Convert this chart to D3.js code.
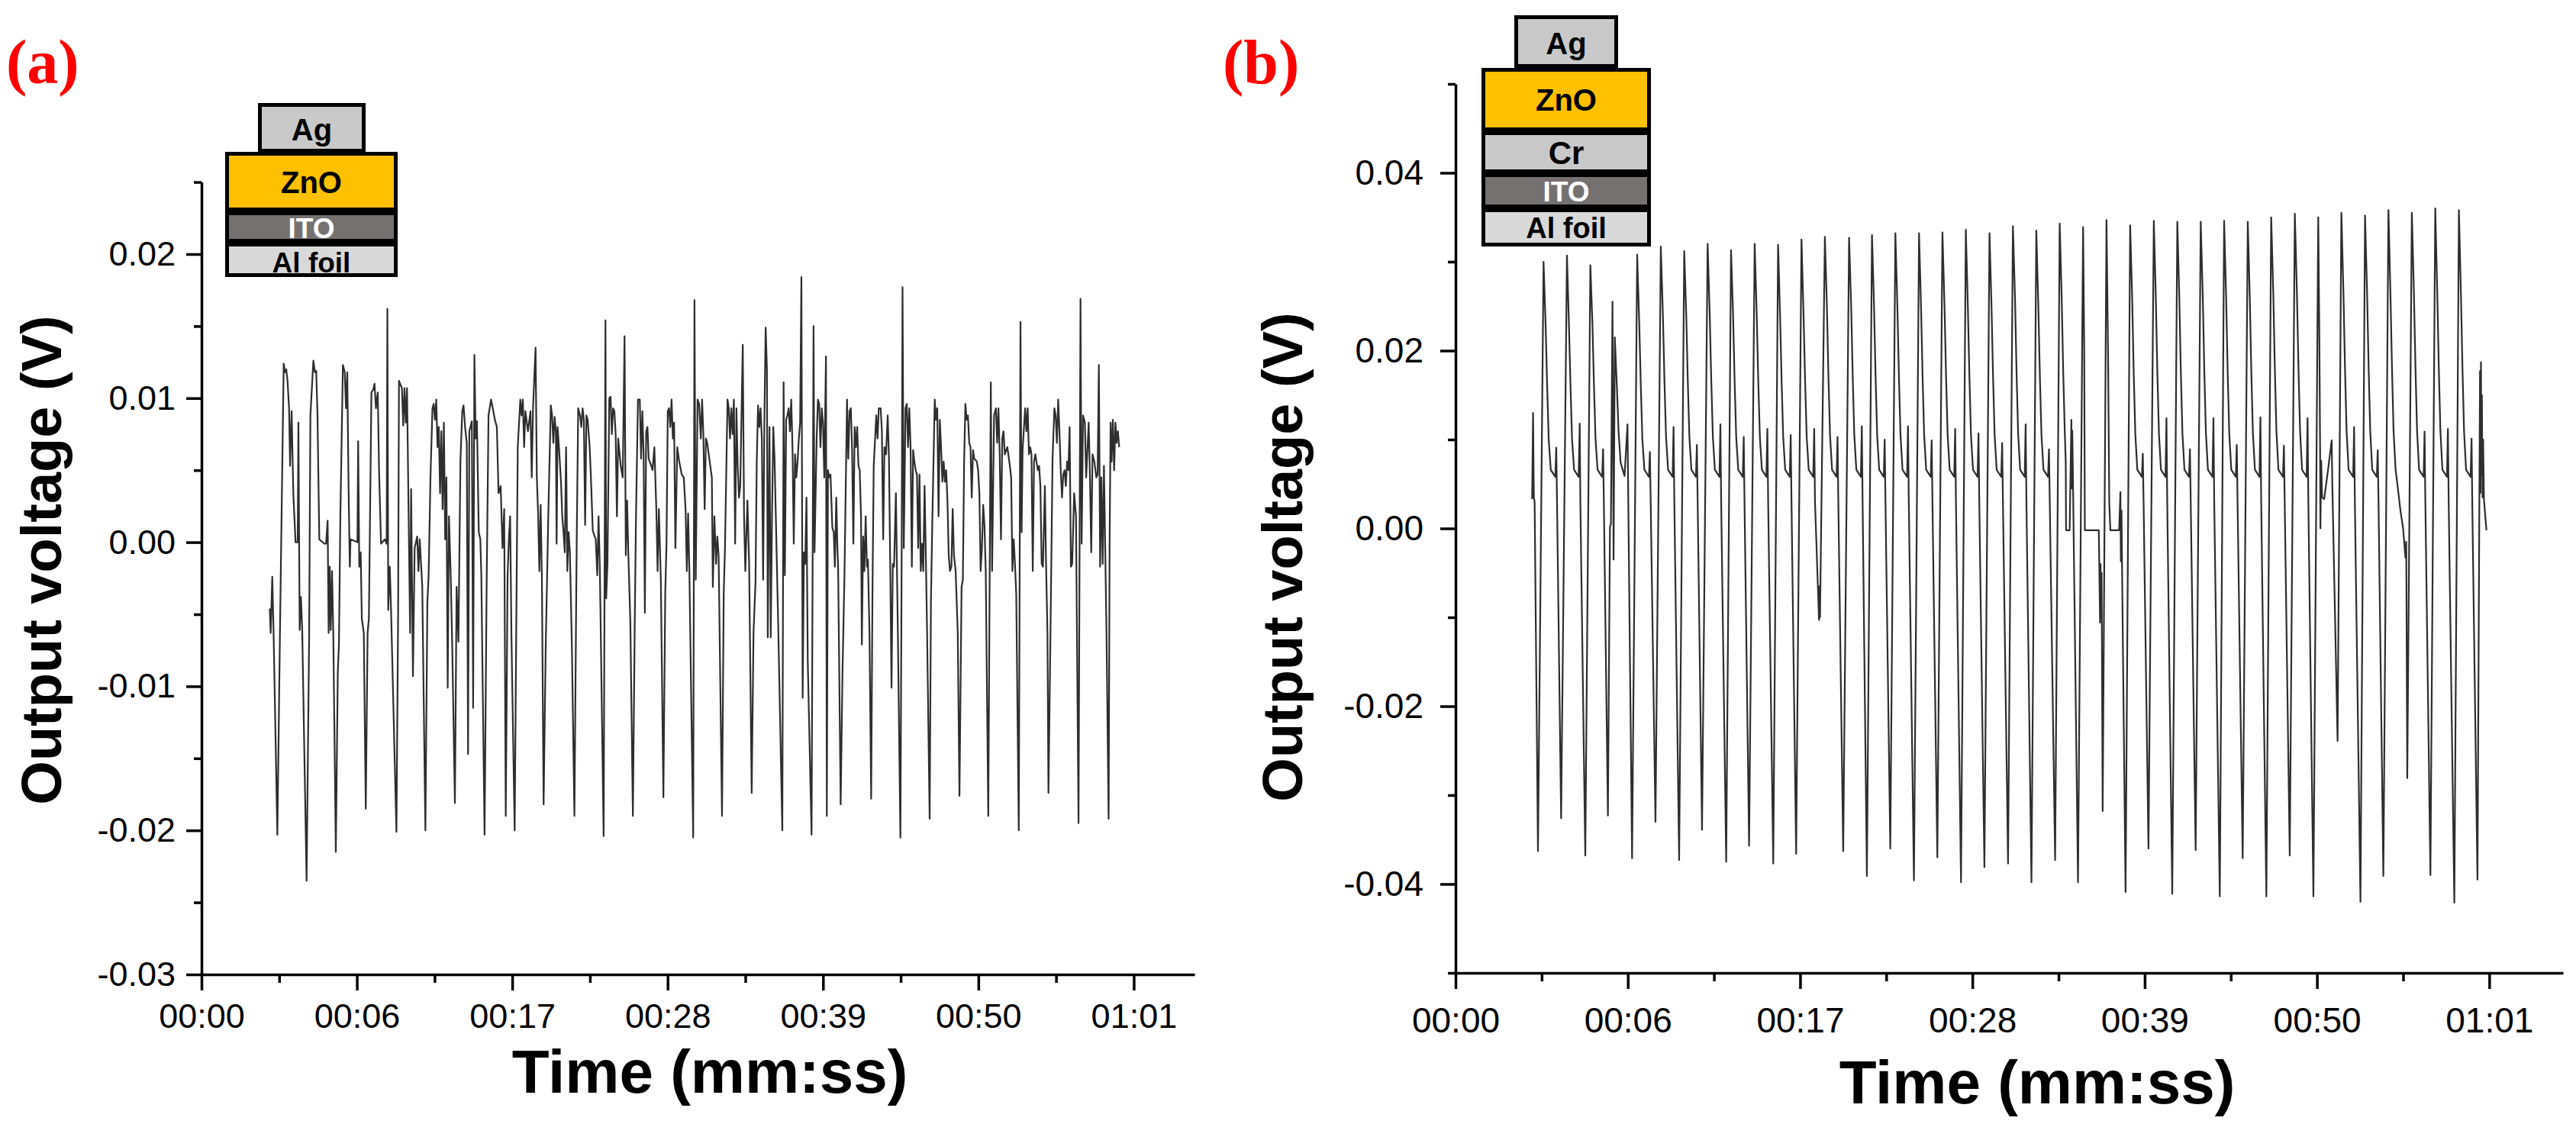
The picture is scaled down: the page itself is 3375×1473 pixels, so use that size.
<!DOCTYPE html>
<html><head><meta charset="utf-8">
<script src="https://cdn.jsdelivr.net/npm/d3@7"></script>
<style>
html,body{margin:0;padding:0;background:#fff;}
svg{display:block;}
</style></head>
<body>
<svg id="chart" width="3375" height="1473" xmlns="http://www.w3.org/2000/svg"></svg>
<script>
// ---------------- DATA ----------------
// x tick positions are seconds from the axis origin; labels as printed on the chart
const xTickSeconds = [0, 11, 22, 33, 44, 55, 66];
const xTickLabels = ["00:00", "00:06", "00:17", "00:28", "00:39", "00:50", "01:01"];
const xMinorSeconds = [5.5, 16.5, 27.5, 38.5, 49.5, 60.5];
const yTicksA = [-0.03, -0.02, -0.01, 0.00, 0.01, 0.02];
const yMinorA = [-0.025, -0.015, -0.005, 0.005, 0.015, 0.025];
const yTicksB = [-0.04, -0.02, 0.00, 0.02, 0.04];
const yMinorB = [-0.05, -0.03, -0.01, 0.01, 0.03, 0.05];

const layersA = ["Ag", "ZnO", "ITO", "Al foil"];
const layersB = ["Ag", "ZnO", "Cr", "ITO", "Al foil"];
const layerFill = {"Ag": "#c9c9c9", "ZnO": "#ffc000", "Cr": "#c9c9c9", "ITO": "#767171", "Al foil": "#d9d9d9"};
const layerText = {"Ag": "#000", "ZnO": "#000", "Cr": "#000", "ITO": "#fff", "Al foil": "#000"};

// (a) Ag/ZnO/ITO/Al foil : [time s, output voltage mV]
const seriesA = [
[4.83,-4.6],[4.90,-6.3],[5.01,-2.4],[5.11,-6.6],[5.37,-20.3],[5.55,-6.6],[5.82,12.4],[5.91,11.8],[6.00,12.0],[6.09,11.2],[6.20,9.3],[6.27,5.3],[6.38,9.1],[6.50,3.4],[6.66,0.0],[6.81,0.0],[6.86,8.3],[6.95,-6.1],[7.04,-3.8],[7.13,-6.1],
[7.44,-23.5],[7.62,-6.6],[7.71,8.8],[7.92,12.6],[8.03,11.8],[8.12,11.9],[8.21,8.9],[8.34,0.2],[8.70,-0.1],[8.82,-0.1],[8.93,1.5],[9.00,-6.3],[9.08,-1.7],[9.15,-6.1],[9.24,-2.0],[9.33,-6.3],
[9.51,-21.5],[9.65,-9.0],[9.73,-7.1],[9.83,1.8],[10.01,12.3],[10.14,11.8],[10.23,9.3],[10.32,11.8],[10.41,3.9],[10.50,-1.7],[10.55,0.2],[11.04,0.0],[11.09,7.0],[11.17,-1.7],[11.27,-0.7],[11.35,-5.3],[11.49,-6.3],
[11.63,-18.5],[11.76,-6.3],[11.85,-5.3],[12.03,10.4],[12.16,10.6],[12.25,11.0],[12.35,9.3],[12.48,10.4],[12.57,5.0],[12.71,-0.1],[12.98,0.2],[13.11,-0.1],[13.16,16.2],[13.22,-4.7],[13.33,-1.7],[13.42,-4.7],
[13.80,-20.1],[13.92,-5.0],[13.98,11.2],[14.19,10.7],[14.28,8.1],[14.37,10.7],[14.46,8.3],[14.55,10.7],[14.70,-0.9],[14.77,-6.3],[14.84,3.7],[14.97,-9.3],[15.09,-0.4],[15.27,0.4],[15.36,-2.0],[15.45,0.2],[15.63,-3.1],
[15.85,-20.0],[15.99,-4.2],[16.08,-2.3],[16.21,4.5],[16.35,9.3],[16.44,9.6],[16.53,8.5],[16.62,9.9],[16.71,6.6],[16.80,8.0],[16.89,3.4],[16.98,7.7],[17.07,2.3],[17.16,8.3],[17.25,0.2],[17.34,4.5],[17.43,-10.1],[17.52,1.8],[17.65,-2.6],[17.76,-7.7],
[17.94,-18.1],[18.06,-3.1],[18.19,-6.9],[18.33,5.6],[18.46,9.1],[18.55,9.5],[18.66,8.0],[18.78,6.9],[18.87,-14.7],[18.96,7.7],[19.14,8.4],[19.23,-11.5],[19.32,13.0],[19.41,7.2],[19.50,8.4],[19.63,0.7],[19.74,0.2],[19.81,-2.3],
[20.04,-20.3],[20.19,-2.6],[20.32,8.8],[20.50,9.9],[20.62,9.3],[20.77,8.5],[20.91,8.0],[21.03,3.4],[21.18,3.9],[21.31,-0.4],[21.43,2.3],[21.54,-19.0],[21.67,-2.3],[21.76,0.2],[21.85,1.8],[21.94,-6.3],
[22.17,-20.0],[22.30,-3.9],[22.39,6.6],[22.57,9.9],[22.66,8.8],[22.75,9.9],[22.84,6.6],[22.93,9.1],[23.11,7.7],[23.29,9.1],[23.38,4.5],[23.47,9.3],[23.65,13.5],[23.74,4.5],[23.83,2.0],[23.92,-2.0],[24.01,2.6],[24.10,-2.6],
[24.22,-18.2],[24.37,-7.1],[24.46,-2.8],[24.55,1.8],[24.73,9.5],[24.82,8.8],[24.91,6.9],[25.00,8.7],[25.09,7.7],[25.14,-0.1],[25.21,8.0],[25.32,6.4],[25.45,4.2],[25.54,1.8],[25.63,0.7],[25.72,-0.7],[25.81,6.6],[25.90,-2.0],[25.99,0.7],[26.08,-0.7],[26.22,-7.1],
[26.40,-19.0],[26.53,-3.6],[26.58,1.6],[26.67,9.3],[26.80,8.8],[26.89,8.0],[26.98,9.3],[27.07,8.5],[27.16,1.2],[27.25,8.8],[27.34,8.5],[27.48,6.6],[27.57,4.5],[27.70,0.8],[27.91,0.2],[28.02,-2.3],[28.11,1.8],[28.20,-1.7],
[28.47,-20.4],[28.60,15.4],[28.65,-3.9],[28.74,-1.5],[28.87,10.0],[28.96,10.1],[29.05,7.5],[29.14,9.3],[29.23,9.1],[29.32,7.5],[29.41,1.8],[29.50,7.2],[29.68,5.3],[29.82,4.5],[29.95,14.3],[30.04,-0.9],[30.13,2.9],[30.22,-0.9],[30.36,-5.5],
[30.54,-19.0],[30.67,-5.8],[30.76,1.8],[30.90,9.9],[31.03,9.9],[31.12,5.8],[31.21,9.1],[31.30,6.1],[31.39,-4.9],[31.48,7.7],[31.57,8.0],[31.66,5.8],[31.84,5.3],[31.93,5.0],[32.06,6.6],[32.20,2.3],[32.29,-2.0],[32.38,2.3],[32.52,-2.6],
[32.70,-17.7],[32.83,-3.6],[32.92,-0.1],[33.01,9.1],[33.10,9.3],[33.19,8.0],[33.28,9.9],[33.37,7.2],[33.46,8.3],[33.55,-0.4],[33.68,6.6],[33.82,5.6],[34.00,4.7],[34.14,4.5],[34.27,2.3],[34.36,-2.0],[34.45,2.0],[34.54,-2.0],
[34.81,-20.5],[34.90,16.8],[34.99,-2.6],[35.12,9.9],[35.23,9.6],[35.35,7.2],[35.44,9.9],[35.53,7.5],[35.62,2.3],[35.71,7.2],[35.80,6.9],[35.98,5.6],[36.13,4.5],[36.20,-3.1],[36.31,1.8],[36.43,-1.5],[36.52,0.4],[36.61,-0.9],
[36.85,-19.0],[36.97,-3.6],[37.06,-0.4],[37.24,9.9],[37.33,9.3],[37.42,7.2],[37.51,9.3],[37.60,7.5],[37.69,9.9],[37.78,-0.1],[37.87,9.3],[37.96,5.3],[38.05,3.1],[38.14,3.9],[38.32,13.7],[38.41,1.8],[38.50,-2.0],[38.65,2.9],[38.77,-1.5],
[38.95,-17.4],[39.08,-6.3],[39.22,-2.8],[39.31,5.6],[39.40,9.5],[39.49,8.0],[39.58,9.3],[39.67,7.2],[39.76,-2.6],[39.85,8.5],[39.94,14.9],[40.03,12.0],[40.09,-6.6],[40.21,8.0],[40.30,-6.6],[40.39,1.8],[40.48,8.0],[40.57,5.8],[40.66,1.8],[40.84,-6.3],
[41.12,-20.0],[41.21,11.1],[41.30,-2.3],[41.39,8.5],[41.48,8.8],[41.57,9.3],[41.66,7.7],[41.75,9.9],[41.84,6.6],[41.93,-0.1],[42.02,6.1],[42.11,4.5],[42.20,5.6],[42.29,7.2],[42.38,8.3],[42.47,18.4],[42.56,-10.8],[42.65,-0.7],[42.74,-1.5],[42.83,3.1],[42.92,-8.2],
[43.19,-20.3],[43.33,15.0],[43.40,-0.7],[43.55,7.2],[43.64,9.9],[43.73,9.6],[43.82,6.6],[43.91,9.3],[44.00,8.3],[44.09,4.5],[44.21,12.9],[44.27,-19.0],[44.35,5.0],[44.44,4.5],[44.53,4.7],[44.66,1.0],[44.76,0.7],[44.84,-1.7],[44.94,3.1],[45.02,-0.4],[45.07,-1.7],
[45.25,-18.2],[45.38,-9.0],[45.52,-2.3],[45.70,9.9],[45.79,5.8],[45.88,9.1],[45.97,9.3],[46.06,6.4],[46.15,-0.1],[46.24,8.0],[46.33,6.6],[46.42,8.0],[46.51,5.3],[46.60,5.0],[46.69,1.8],[46.75,-7.1],[46.84,0.4],[46.93,-2.0],[47.02,1.8],[47.11,-1.7],[47.18,-1.2],[47.29,-6.3],
[47.41,-17.8],[47.50,-3.6],[47.59,5.3],[47.77,8.8],[47.86,7.2],[47.95,9.3],[48.08,9.3],[48.17,7.7],[48.26,0.2],[48.35,6.6],[48.46,6.1],[48.58,8.8],[48.67,5.8],[48.76,-1.7],[48.85,-10.1],[48.94,-1.5],[49.03,-1.7],[49.16,3.4],[49.30,-6.3],
[49.48,-20.5],[49.57,-0.4],[49.63,17.7],[49.72,-0.4],[49.84,9.3],[49.93,9.6],[50.02,6.6],[50.11,9.3],[50.20,6.6],[50.29,-1.7],[50.38,6.4],[50.47,5.6],[50.56,5.0],[50.65,4.7],[50.74,-0.4],[50.83,4.7],[50.92,-2.0],[51.01,-0.1],[51.10,-2.0],[51.19,3.9],[51.28,-0.9],[51.37,-6.3],
[51.55,-19.2],[51.64,-4.2],[51.73,1.0],[51.91,9.9],[52.00,8.5],[52.09,9.3],[52.18,1.8],[52.27,8.5],[52.36,6.6],[52.45,4.2],[52.54,5.6],[52.63,4.2],[52.72,5.0],[52.81,2.9],[52.90,-0.9],[52.99,-2.0],[53.09,-1.7],[53.18,2.3],[53.27,-0.9],[53.39,-2.0],[53.54,-6.3],
[53.66,-17.6],[53.81,-3.1],[53.90,-2.6],[53.99,5.6],[54.08,9.6],[54.17,8.5],[54.26,8.8],[54.35,6.9],[54.44,6.6],[54.53,3.1],[54.62,6.4],[54.71,5.8],[54.89,5.6],[54.98,5.0],[55.07,3.4],[55.16,-2.0],[55.25,-0.4],[55.34,2.6],[55.43,1.2],[55.52,-2.0],
[55.70,-19.0],[55.88,11.1],[55.97,-2.0],[56.11,8.8],[56.24,9.3],[56.33,6.9],[56.42,9.3],[56.51,6.1],[56.60,0.2],[56.69,7.2],[56.78,7.7],[56.87,6.1],[57.05,6.6],[57.23,5.3],[57.32,4.5],[57.41,-2.0],[57.50,0.2],[57.59,-1.5],[57.68,-3.6],
[57.86,-20.0],[57.98,15.3],[58.06,0.7],[58.13,6.4],[58.31,9.3],[58.40,7.7],[58.49,9.3],[58.58,6.1],[58.67,6.6],[58.76,6.1],[58.85,-2.0],[58.94,5.6],[59.03,6.1],[59.21,5.0],[59.30,5.3],[59.39,3.9],[59.48,-1.5],[59.57,-1.7],[59.71,3.9],[59.78,-0.9],[59.89,-6.3],
[59.96,-17.4],[60.07,-9.0],[60.16,-1.7],[60.25,5.8],[60.38,9.3],[60.47,8.8],[60.56,6.9],[60.65,9.9],[60.74,7.7],[60.83,5.0],[60.92,3.1],[61.01,4.7],[61.10,5.0],[61.19,3.9],[61.28,5.6],[61.37,5.0],[61.46,8.0],[61.55,-1.7],[61.64,-1.5],[61.78,3.4],[61.91,1.8],
[62.09,-19.5],[62.23,16.9],[62.31,-0.1],[62.41,8.8],[62.54,8.3],[62.63,4.5],[62.81,8.3],[62.90,4.5],[62.99,-0.7],[63.08,6.1],[63.21,5.6],[63.35,4.5],[63.44,4.7],[63.53,12.3],[63.62,-1.7],[63.71,4.5],[63.80,-1.5],[63.89,5.3],[64.07,-6.3],
[64.22,-19.2],[64.29,-0.1],[64.36,8.3],[64.43,5.6],[64.52,8.5],[64.61,5.0],[64.70,8.3],[64.79,6.9],[64.88,7.7],[64.97,6.6]
];

// (b) Ag/ZnO/Cr/ITO/Al foil : [time s, output voltage mV]
const seriesB = [
[4.89,3.3],[4.95,13.0],[5.00,3.5],[5.05,3.0],[5.263,-36.3],
[5.62,30.0],[5.75,23],[5.85,16],[5.95,10],[6.08,6.6],[6.37,5.8],[6.43,9.1],[6.48,3.0],[6.741,-32.6],
[7.114,30.7],[7.24,23],[7.34,16],[7.44,10],[7.57,6.6],[7.86,5.8],[7.93,11.8],[7.97,3.0],[8.284,-36.8],
[8.608,29.6],[8.74,23],[8.84,16],[8.94,10],[9.07,6.6],[9.36,5.8],[9.42,8.9],[9.47,3.0],[9.729,-32.3],
[9.86,0.2],[9.92,0.5],[10.021,25.5],[10.09,-3.5],[10.17,21.5],[10.30,16],[10.41,10.9],[10.54,7.4],[10.79,5.9],[10.98,11.7],[11.03,3.0],[11.272,-37.1],
[11.597,30.8],[11.73,23],[11.83,16],[11.93,10],[12.06,6.6],[12.35,5.8],[12.41,8.6],[12.46,3.0],[12.766,-33.0],
[13.107,31.7],[13.24,24],[13.34,16.5],[13.44,10.3],[13.57,6.6],[13.86,5.8],[13.92,11.4],[13.97,3.0],[14.276,-37.3],
[14.601,31.2],[14.73,24],[14.83,16.5],[14.93,10.3],[15.06,6.6],[15.35,5.8],[15.41,9.4],[15.46,3.0],[15.738,-33.9],
[16.095,32.0],[16.23,24],[16.33,16.5],[16.43,10.3],[16.56,6.6],[16.85,5.8],[16.91,11.7],[16.96,3.0],[17.281,-37.5],
[17.589,31.3],[17.72,24],[17.82,16.5],[17.92,10.3],[18.05,6.6],[18.34,5.8],[18.40,10.3],[18.45,3.0],[18.743,-35.7],
[19.099,32.0],[19.23,24],[19.33,16.5],[19.43,10.3],[19.56,6.6],[19.85,5.8],[19.91,11.2],[19.96,3.0],[20.285,-37.7],
[20.594,31.9],[20.72,24],[20.82,16.5],[20.92,10.3],[21.05,6.6],[21.34,5.8],[21.40,10.5],[21.45,3.0],[21.747,-36.6],
[22.088,32.5],[22.22,24],[22.32,16.5],[22.42,10.3],[22.55,6.6],[22.84,5.8],[22.90,11.2],[22.95,3.0],[23.208,-10.3],[23.24,-6.5],[23.27,-10.0],
[23.582,32.8],[23.71,25],[23.81,17],[23.91,10.5],[24.04,6.6],[24.33,5.8],[24.39,10.3],[24.44,3.0],[24.751,-36.3],
[25.127,32.7],[25.26,25],[25.36,17],[25.46,10.5],[25.59,6.6],[25.88,5.8],[25.94,11.5],[25.99,3.0],[26.264,-39.1],
[26.589,33.0],[26.72,25],[26.82,17],[26.92,10.5],[27.05,6.6],[27.34,5.8],[27.40,10.0],[27.45,3.0],[27.758,-36.0],
[28.083,33.2],[28.21,25],[28.31,17],[28.41,10.5],[28.54,6.6],[28.83,5.8],[28.89,11.5],[28.94,3.0],[29.268,-39.6],
[29.593,33.2],[29.72,25],[29.82,17],[29.92,10.5],[30.05,6.6],[30.34,5.8],[30.40,9.9],[30.45,3.0],[30.762,-37.0],
[31.087,33.3],[31.22,25],[31.32,17],[31.42,10.5],[31.55,6.6],[31.84,5.8],[31.90,11.2],[31.95,3.0],[32.273,-39.8],
[32.581,33.6],[32.71,25],[32.81,17],[32.91,10.5],[33.04,6.6],[33.33,5.8],[33.39,10.7],[33.44,3.0],[33.767,-38.1],
[34.092,33.2],[34.22,25],[34.32,17],[34.42,10.5],[34.55,6.6],[34.84,5.8],[34.90,9.6],[34.95,3.0],[35.277,-37.7],
[35.586,34.0],[35.72,26],[35.82,17.5],[35.92,10.7],[36.05,6.6],[36.34,5.8],[36.40,11.7],[36.45,3.0],[36.771,-39.8],
[37.08,33.5],[37.21,25],[37.31,17],[37.41,10.5],[37.54,6.6],[37.83,5.8],[37.89,8.9],[37.94,3.0],[38.282,-37.3],
[38.574,34.3],[38.70,26],[38.80,17.5],[38.90,10.7],[38.96,7.5],[38.98,-0.2],[39.21,-0.2],[39.32,12.2],[39.35,4.5],[39.38,11.0],[39.43,4.3],[39.743,-39.8],
[40.068,33.9],[40.14,20],[40.18,-0.2],[41.07,-0.2],[41.09,-2.5],[41.15,-10.6],[41.18,-4.0],[41.22,-10.0],[41.25,-5.0],[41.318,-31.8],
[41.562,34.7],[41.66,20],[41.74,2.8],[41.81,-0.2],[42.37,-0.2],[42.45,4.1],[42.48,-3.7],[42.52,2.0],[42.55,-3.5],[42.78,-40.9],
[43.072,34.1],[43.20,26],[43.30,17.5],[43.40,10.7],[43.53,6.6],[43.82,5.8],[43.88,8.4],[43.93,3.0],[44.242,-36.0],
[44.583,34.6],[44.71,26],[44.81,17.5],[44.91,10.7],[45.04,6.6],[45.33,5.8],[45.39,12.4],[45.44,3.0],[45.76,-41.1],
[46.084,34.5],[46.21,26],[46.31,17.5],[46.41,10.7],[46.54,6.6],[46.83,5.8],[46.89,8.9],[46.94,3.0],[47.254,-36.2],
[47.578,34.5],[47.71,26],[47.81,17.5],[47.91,10.7],[48.04,6.6],[48.33,5.8],[48.39,12.4],[48.44,3.0],[48.796,-41.4],
[49.072,34.6],[49.20,26],[49.30,17.5],[49.40,10.7],[49.53,6.6],[49.82,5.8],[49.88,9.4],[49.93,3.0],[50.258,-37.1],
[50.583,34.5],[50.71,26],[50.81,17.5],[50.91,10.7],[51.04,6.6],[51.33,5.8],[51.39,12.5],[51.44,3.0],[51.768,-41.4],
[52.077,35.0],[52.21,26.5],[52.31,18],[52.41,11],[52.54,6.6],[52.83,5.8],[52.89,9.3],[52.94,3.0],[53.262,-36.8],
[53.587,35.4],[53.72,26.5],[53.82,18],[53.92,11],[54.05,6.6],[54.34,5.8],[54.40,12.4],[54.45,3.0],[54.773,-41.4],
[55.081,35.0],[55.15,22],[55.20,9],[55.22,0.0],[55.27,7.6],[55.33,3.5],[55.46,3.3],[55.70,6.5],[55.94,9.9],[55.98,5.0],[56.316,-23.9],
[56.559,35.5],[56.69,26.5],[56.79,18],[56.89,11],[57.02,6.6],[57.31,5.8],[57.37,11.4],[57.42,3.0],[57.777,-42.0],
[58.069,35.2],[58.20,26.5],[58.30,18],[58.40,11],[58.53,6.6],[58.82,5.8],[58.88,8.8],[58.93,3.0],[59.239,-39.1],
[59.563,35.8],[59.69,26.5],[59.79,18],[59.89,11],[60.02,6.6],[60.10,5.5],[60.33,2.0],[60.50,0.0],[60.65,-3.3],[60.70,-1.5],[60.765,-28.1],
[61.058,35.5],[61.19,26.5],[61.29,18],[61.39,11],[61.52,6.6],[61.81,5.8],[61.87,10.9],[61.92,3.0],[62.243,-39.0],
[62.552,36.0],[62.68,26.5],[62.78,18],[62.88,11],[63.01,6.6],[63.30,5.8],[63.36,11.2],[63.41,3.0],[63.77,-42.1],
[64.062,35.8],[64.19,26.5],[64.29,18],[64.39,11],[64.52,6.6],[64.81,5.8],[64.87,10.1],[64.92,2.3],[65.248,-39.5],
[65.41,17.7],[65.44,4.0],[65.47,18.7],[65.50,6.0],[65.53,15.0],[65.57,3.5],[65.61,10.0],[65.66,3.3],[65.82,-0.2]
];

// ---------------- LAYOUT ----------------
// stackGeom rows: [x0, x1, y0, y1, text baseline, font size]
const panels = [
  { data: seriesA, xDomain: [0, 70.3], xRange: [264, 1565], yDomain: [-0.03, 0.025], yRange: [1277, 238.6],
    yTicks: yTicksA, yMinor: yMinorA, xPad: 17, yPad: 14, tickFont: 45,
    label: "(a)", labelX: 8, labelY: 109,
    xTitleX: 930, xTitleY: 1432, yTitleX: 80, yTitleY: 734,
    stack: layersA,
    stackGeom: [[338,479,135,200,184,40],[295,521,199,277,253,40],[295,521,277,318,312,37],[295,521,318,363,357,37]] },
  { data: seriesB, xDomain: [0, 70.71], xRange: [1907, 3358], yDomain: [-0.05, 0.05], yRange: [1275, 110],
    yTicks: yTicksB, yMinor: yMinorB, xPad: 24, yPad: 22, tickFont: 46,
    label: "(b)", labelX: 1602, labelY: 109,
    xTitleX: 2669, xTitleY: 1446, yTitleX: 1706, yTitleY: 730,
    stack: layersB,
    stackGeom: [[1984,2120,20,89,71,40],[1941,2163,89,172,145,40],[1941,2163,172,227,215,42],[1941,2163,227,273,264,37],[1941,2163,273,323,312,38]] }
];

const svg = d3.select("#chart");
svg.append("rect").attr("width", 3375).attr("height", 1473).attr("fill", "#fff");

function styleAxis(g, fontSize) {
  g.selectAll("path.domain").attr("stroke", "#000").attr("stroke-width", 3.5);
  g.selectAll(".tick line").attr("stroke", "#000").attr("stroke-width", 3.5);
  g.selectAll(".tick text").attr("fill", "#000")
    .style("font-family", "'Liberation Sans', Arial, sans-serif").style("font-size", fontSize + "px");
}

panels.forEach(p => {
  const x = d3.scaleLinear().domain(p.xDomain).range(p.xRange);
  const y = d3.scaleLinear().domain(p.yDomain).range(p.yRange);
  const g = svg.append("g");

  const line = d3.line().x(d => x(d[0])).y(d => y(d[1] / 1000));
  g.append("path").datum(p.data).attr("d", line)
    .attr("fill", "none").attr("stroke", "#2e2e2e").attr("stroke-width", 2.2)
    .attr("stroke-linejoin", "round");

  const yBase = p.yRange[0];
  const xBase = p.xRange[0];

  // x minor ticks
  g.append("g").attr("transform", `translate(0,${yBase})`)
    .call(d3.axisBottom(x).tickValues(xMinorSeconds).tickSize(11).tickFormat(""))
    .call(a => a.select(".domain").remove())
    .call(a => styleAxis(a, p.tickFont));
  // x major
  g.append("g").attr("transform", `translate(0,${yBase})`)
    .call(d3.axisBottom(x).tickValues(xTickSeconds).tickSize(21).tickSizeOuter(0)
      .tickPadding(p.xPad).tickFormat((d, i) => xTickLabels[i]))
    .call(a => styleAxis(a, p.tickFont));

  // y minor
  g.append("g").attr("transform", `translate(${xBase},0)`)
    .call(d3.axisLeft(y).tickValues(p.yMinor).tickSize(10).tickFormat(""))
    .call(a => a.select(".domain").remove())
    .call(a => styleAxis(a, p.tickFont));
  // y major
  g.append("g").attr("transform", `translate(${xBase},0)`)
    .call(d3.axisLeft(y).tickValues(p.yTicks).tickSize(20).tickSizeOuter(0)
      .tickPadding(p.yPad).tickFormat(v => v.toFixed(2)))
    .call(a => styleAxis(a, p.tickFont));

  // axis titles
  g.append("text").attr("x", p.xTitleX).attr("y", p.xTitleY)
    .attr("text-anchor", "middle").attr("fill", "#000")
    .style("font-family", "'Liberation Sans', Arial, sans-serif").style("font-weight", "bold").style("font-size", "80px")
    .text("Time (mm:ss)");
  g.append("text").attr("transform", `translate(${p.yTitleX},${p.yTitleY}) rotate(-90)`)
    .attr("text-anchor", "middle").attr("fill", "#000")
    .style("font-family", "'Liberation Sans', Arial, sans-serif").style("font-weight", "bold").style("font-size", "74px")
    .text("Output voltage (V)");

  // panel label
  g.append("text").attr("x", p.labelX).attr("y", p.labelY).attr("fill", "#ff0000")
    .style("font-family", "'Liberation Serif', 'Times New Roman', serif").style("font-weight", "bold").style("font-size", "82px")
    .text(p.label);

  // device stack inset
  const inset = g.append("g");
  p.stack.forEach((name, i) => {
    const [x0, x1, y0, y1, base, fs] = p.stackGeom[i];
    inset.append("rect").attr("x", x0 + 2.5).attr("y", y0 + 2.5)
      .attr("width", x1 - x0 - 5).attr("height", y1 - y0 - 5)
      .attr("fill", layerFill[name]).attr("stroke", "#000").attr("stroke-width", 5);
  });
  p.stack.forEach((name, i) => {
    const [x0, x1, y0, y1, base, fs] = p.stackGeom[i];
    inset.append("text").attr("x", (x0 + x1) / 2).attr("y", base)
      .attr("text-anchor", "middle").attr("fill", layerText[name])
      .style("font-family", "'Liberation Sans', Arial, sans-serif").style("font-weight", "700")
      .style("font-size", fs + "px").text(name);
  });
});
</script>
</body></html>
